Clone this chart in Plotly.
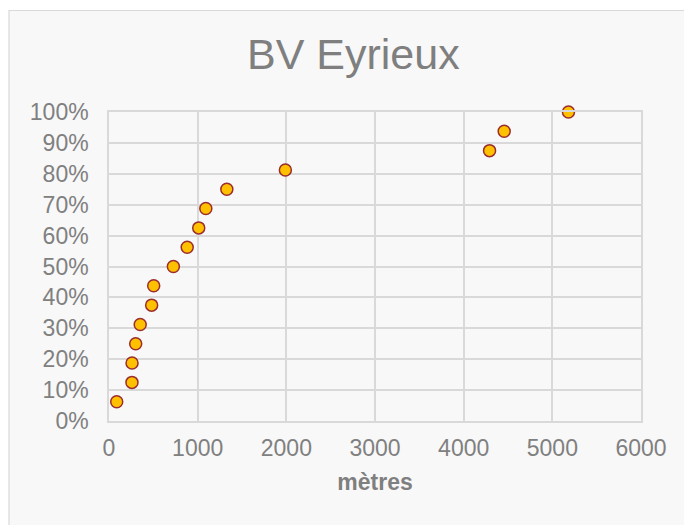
import plotly.graph_objects as go

# Data
metres = [87, 259, 260, 301, 352, 481, 504, 726, 882, 1012, 1092, 1329, 1989, 4292, 4457, 5182]
cumul = [1/16, 2/16, 3/16, 4/16, 5/16, 6/16, 7/16, 8/16, 9/16, 10/16, 11/16, 12/16, 13/16, 14/16, 15/16, 16/16]
x_ticks = [0, 1000, 2000, 3000, 4000, 5000, 6000]
y_ticks = [0, 0.1, 0.2, 0.3, 0.4, 0.5, 0.6, 0.7, 0.8, 0.9, 1.0]
title_text = "BV Eyrieux"
x_title = "mètres"

OFF = 8  # page body margin
W, H = 684, 517
# page-pixel plot box: x 109..641, y 112..421
L, T = 109 - OFF, 112 - OFF
R, B = W - (641 - OFF), H - (421 - OFF)
pw, ph = W - L - R, H - T - B

def px_x(p):
    return (p - OFF - L) / pw

def px_y(p):
    return (H - B - (p - OFF)) / ph

FONT = "Liberation Sans, Arial, sans-serif"
GRID = "#d9d9d9"
TXT = "#808080"

fig = go.Figure()
fig.add_trace(go.Scatter(
    x=metres, y=cumul, mode="markers",
    marker=dict(size=12, color="#FFC000", line=dict(color="#9B2D2D", width=1.5)),
    showlegend=False, hoverinfo="x+y", cliponaxis=False,
))

fig.update_layout(
    width=W, height=H,
    margin=dict(l=L, r=R, t=T, b=B, autoexpand=False),
    paper_bgcolor="white",
    plot_bgcolor="#ffffff",
    font=dict(family=FONT, color=TXT),
    shapes=[dict(
        type="rect", xref="paper", yref="paper", layer="below",
        x0=px_x(9), x1=px_x(740), y0=px_y(580), y1=px_y(10.5),
        fillcolor="#f8f8f8", line=dict(color="#d9d9d9", width=1.2),
    )],
    annotations=[dict(
        text=title_text, xref="paper", yref="paper",
        x=px_x(353), y=px_y(54), xanchor="center", yanchor="middle",
        showarrow=False, font=dict(family=FONT, size=43, color="#7f7f7f"),
    )],
)

fig.update_xaxes(
    range=[0, 6000], tickvals=x_ticks, ticktext=[str(v) for v in x_ticks],
    showgrid=True, gridcolor=GRID, gridwidth=1.5, zeroline=False,
    showline=True, linecolor=GRID, linewidth=1.5, mirror=True,
    ticks="", ticklabelstandoff=6,
    tickfont=dict(family=FONT, size=23, color=TXT),
    title=dict(text="<b>" + x_title + "</b>", standoff=14,
               font=dict(family=FONT, size=23, color="#7f7f7f")),
    fixedrange=True,
)
fig.update_yaxes(
    range=[0, 1], tickvals=y_ticks, tickformat=".0%",
    showgrid=True, gridcolor=GRID, gridwidth=1.5, zeroline=False,
    showline=True, linecolor=GRID, linewidth=1.5, mirror=True,
    ticks="", ticklabelstandoff=14,
    tickfont=dict(family=FONT, size=23, color=TXT),
    fixedrange=True,
)

fig.write_html("out.html")
